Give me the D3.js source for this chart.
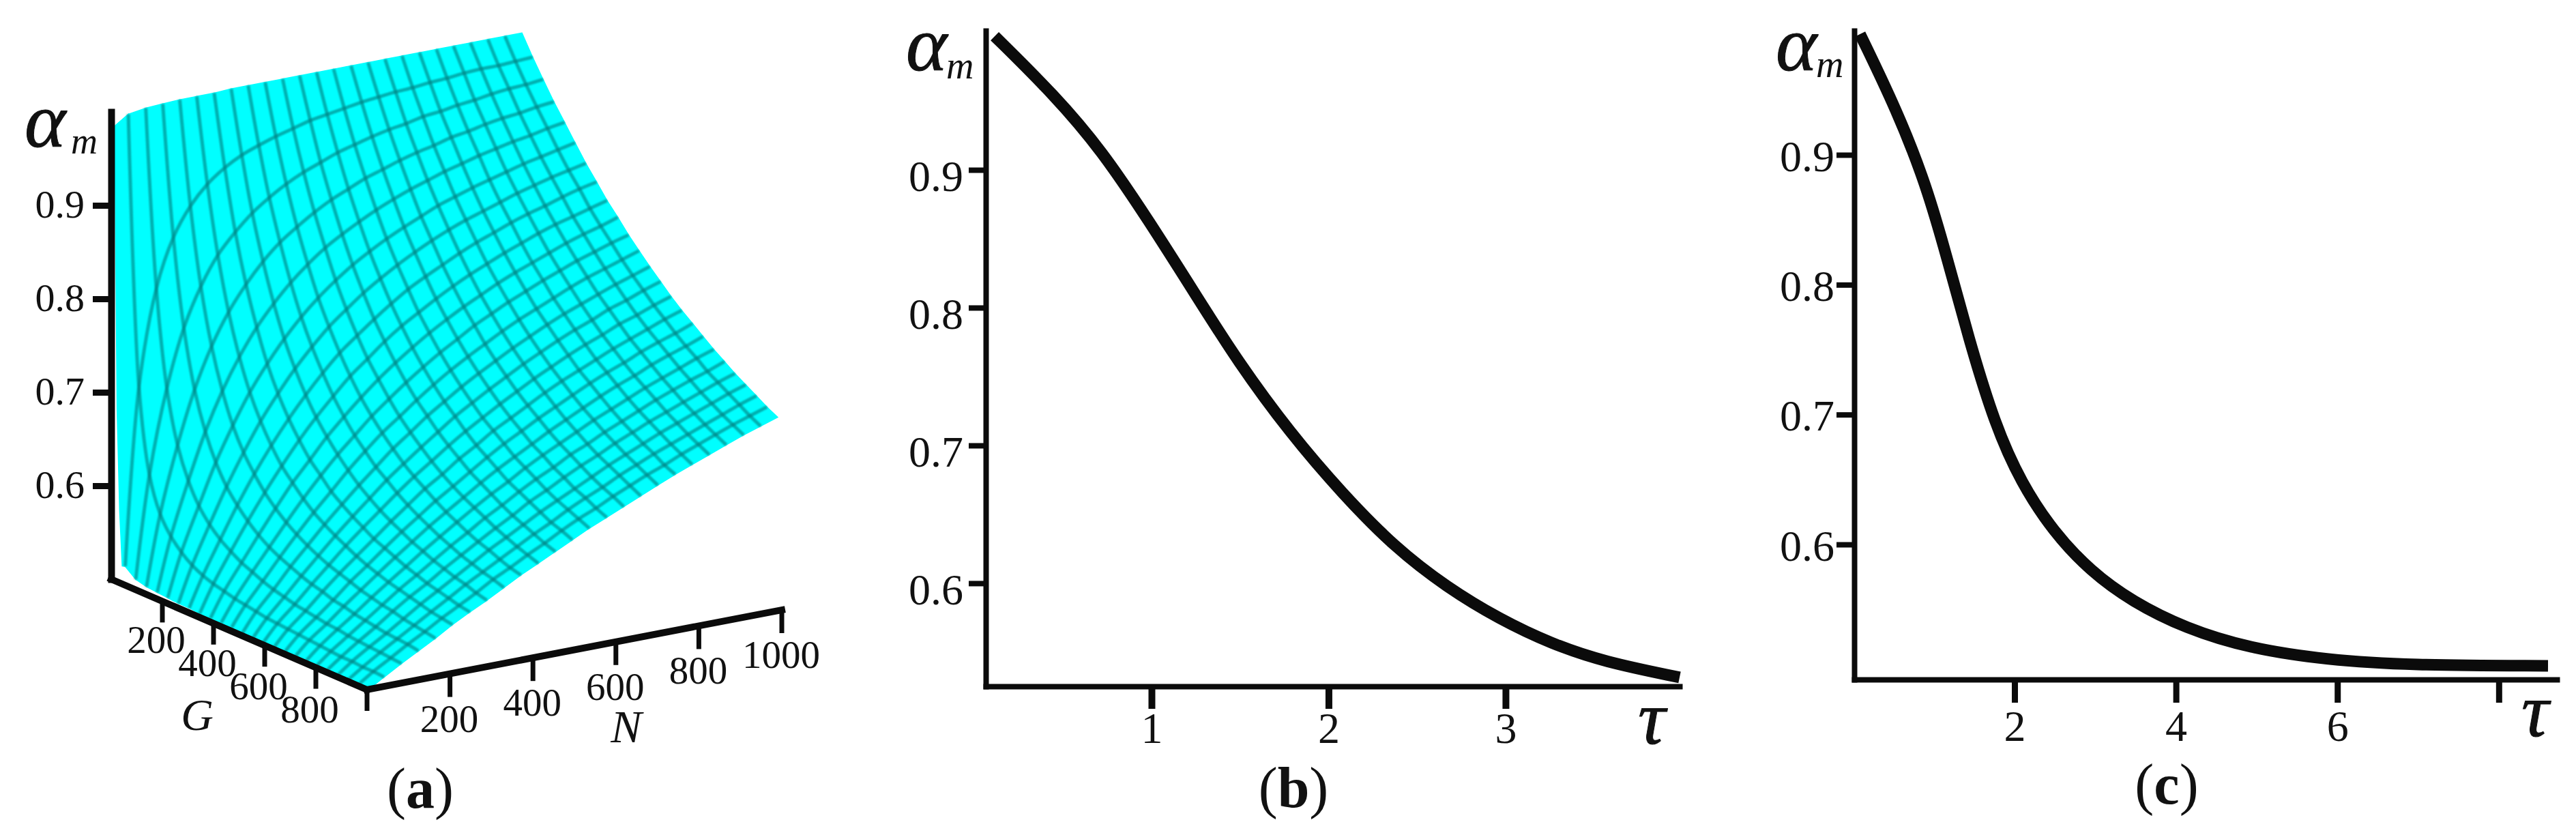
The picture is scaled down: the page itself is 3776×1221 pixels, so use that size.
<!DOCTYPE html>
<html>
<head>
<meta charset="utf-8">
<script src="https://cdnjs.cloudflare.com/ajax/libs/d3/7.8.5/d3.min.js"></script>
<style>
  body { margin: 0; background: #fff; }
  svg { display: block; }
  text { font-family: "Liberation Serif", serif; fill: #111; }
</style>
</head>
<body>
<svg id="chart" width="3776" height="1221">
  <defs>
    <filter id="soft"><feGaussianBlur stdDeviation="0.9"></feGaussianBlur></filter>
  </defs>
</svg>
<script>
// panel (b) curve
var tauB = [0.114, 0.453, 0.719, 0.985, 1.251, 1.487, 1.783, 2.078, 2.374, 2.669, 2.965, 3.26, 3.555, 3.983];
var alphaB = [0.997, 0.954, 0.914, 0.863, 0.809, 0.761, 0.709, 0.665, 0.626, 0.597, 0.574, 0.556, 0.543, 0.5317];

// panel (c) curve
var tauC = [0.085, 0.544, 0.905, 1.167, 1.43, 1.757, 2.085, 2.479, 2.938, 3.462, 4.118, 4.905, 5.889, 6.872, 8.61];
var alphaC = [0.993, 0.934, 0.877, 0.82, 0.759, 0.692, 0.647, 0.61, 0.5795, 0.5558, 0.5354, 0.52, 0.511, 0.507, 0.5065];

// tick labels
var alphaTicks = [0.9, 0.8, 0.7, 0.6];
var tauTicksB = [1, 2, 3];
var tauTicksC = [2, 4, 6, 8];
var tauLabelsC = [2, 4, 6];
var gTicks = [200, 400, 600, 800, 1000];
var nTicks = [200, 400, 600, 800, 1000];
var gTickLabels = [200, 400, 600, 800];
var nTickLabels = [200, 400, 600, 800, 1000];

// panel (a) surface: mesh nodes
var nGrid = [8, 41, 83, 124, 165, 206, 248, 289, 330, 371, 413, 454, 495, 536, 578, 619, 660, 701, 743, 784, 825, 866, 908, 949, 990];
var gGrid = [0.5, 42, 83, 125, 167, 208, 250, 292, 333, 375, 417, 458, 500, 542, 583, 625, 667, 708, 750, 792, 833, 875, 917, 958, 1000];

// alpha at each mesh node, one row per gGrid value, one column per nGrid value.
// Estimated: edges, inner nodes worked out by hand
// from a ratio curve fitted to those edge readings, not read one by one.
var alphaGrid = [
  [.984,.994,.997,.998,.999,.999,.999,1,1,1,1,1,1,1,1,1,1,1,1,1,1,1,1,1,1],
  [.518,.707,.809,.860,.890,.910,.924,.934,.941,.947,.952,.957,.960,.963,.966,.968,.970,.971,.973,.974,.976,.977,.977,.978,.979],
  [.509,.618,.707,.768,.809,.839,.860,.877,.890,.901,.910,.917,.924,.929,.934,.938,.941,.945,.947,.950,.952,.955,.957,.958,.960],
  [.506,.581,.651,.707,.750,.783,.809,.830,.847,.860,.872,.882,.890,.898,.904,.910,.915,.919,.924,.927,.931,.934,.936,.939,.941],
  [.505,.562,.618,.667,.707,.740,.768,.790,.809,.825,.839,.850,.860,.869,.877,.884,.890,.896,.901,.906,.910,.914,.917,.921,.924],
  [.504,.550,.596,.639,.675,.707,.734,.757,.777,.794,.809,.822,.833,.843,.852,.860,.868,.874,.880,.885,.890,.895,.899,.903,.907],
  [.503,.541,.581,.618,.651,.681,.707,.730,.750,.768,.783,.797,.809,.820,.830,.839,.847,.854,.860,.866,.872,.877,.882,.886,.890],
  [.503,.535,.570,.603,.633,.660,.685,.707,.727,.745,.760,.774,.787,.799,.809,.818,.827,.835,.842,.849,.855,.860,.866,.871,.875],
  [.502,.531,.562,.591,.618,.643,.667,.688,.707,.725,.740,.755,.768,.779,.790,.800,.809,.817,.825,.832,.839,.845,.850,.855,.860],
  [.502,.528,.555,.581,.606,.630,.651,.672,.690,.707,.723,.737,.750,.762,.773,.783,.792,.801,.809,.816,.823,.830,.836,.841,.847],
  [.502,.525,.550,.573,.596,.618,.639,.658,.675,.692,.707,.721,.734,.746,.757,.768,.777,.786,.794,.802,.809,.816,.822,.828,.833],
  [.502,.523,.545,.567,.588,.608,.627,.646,.663,.679,.693,.707,.720,.732,.743,.753,.763,.772,.780,.788,.796,.803,.809,.815,.821],
  [.501,.521,.541,.562,.581,.600,.618,.635,.651,.667,.681,.695,.707,.719,.730,.740,.750,.759,.768,.776,.783,.790,.797,.803,.809],
  [.501,.519,.538,.557,.575,.593,.610,.626,.642,.656,.670,.683,.696,.707,.718,.728,.738,.747,.756,.764,.771,.779,.785,.792,.798],
  [.501,.518,.535,.553,.570,.587,.603,.618,.633,.647,.660,.673,.685,.696,.707,.717,.727,.736,.745,.753,.760,.768,.774,.781,.787],
  [.501,.517,.533,.550,.566,.581,.596,.611,.625,.639,.651,.664,.675,.687,.697,.707,.717,.726,.734,.742,.750,.757,.764,.771,.777],
  [.501,.516,.531,.546,.562,.576,.591,.605,.618,.631,.643,.655,.667,.678,.688,.698,.707,.716,.725,.733,.740,.748,.755,.761,.768],
  [.501,.515,.529,.544,.558,.572,.586,.599,.612,.624,.636,.648,.659,.669,.679,.689,.698,.707,.716,.724,.731,.739,.746,.752,.759],
  [.501,.514,.528,.541,.555,.568,.581,.594,.606,.618,.630,.641,.651,.662,.672,.681,.690,.699,.707,.715,.723,.730,.737,.744,.750],
  [.501,.513,.526,.539,.552,.565,.577,.589,.601,.612,.624,.634,.645,.655,.664,.674,.682,.691,.699,.707,.715,.722,.729,.735,.742],
  [.501,.512,.525,.537,.550,.562,.573,.585,.596,.607,.618,.628,.639,.648,.658,.667,.675,.684,.692,.700,.707,.714,.721,.728,.734],
  [.501,.512,.524,.535,.547,.559,.570,.581,.592,.603,.613,.623,.633,.642,.651,.660,.669,.677,.685,.693,.700,.707,.714,.721,.727],
  [.501,.511,.523,.534,.545,.556,.567,.578,.588,.598,.608,.618,.627,.637,.646,.654,.663,.671,.679,.686,.693,.700,.707,.714,.720],
  [.501,.511,.522,.533,.543,.554,.564,.574,.585,.594,.604,.613,.623,.632,.640,.649,.657,.665,.672,.680,.687,.694,.701,.707,.713],
  [.501,.510,.521,.531,.541,.552,.562,.571,.581,.591,.600,.609,.618,.627,.635,.643,.651,.659,.667,.674,.681,.688,.695,.701,.707]
];

// left rim of the surface, next to the vertical axis
var rimG = [0.5, 10, 20, 30, 42];
var rimAlpha = [0.984, 0.682, 0.575, 0.517, 0.518];

var svg = d3.select("#chart");
var ink = "#0b0b0b";

function addText(x, y, str, size, italic, anchor) {
  return svg.append("text")
    .attr("x", x)
    .attr("y", y)
    .attr("font-size", size)
    .attr("font-style", italic ? "italic" : "normal")
    .attr("text-anchor", anchor || "start")
    .text(str);
}

// (a) etc, only the letter is bold
function addCaption(x, y, letter, size) {
  var t = addText(x, y, "(", size, false, "middle");
  t.append("tspan").attr("font-weight", "bold").text(letter);
  t.append("tspan").text(")");
}

function addAlphaLabel(ax, ay, aSize, mx, my, mSize) {
  addText(ax, ay, "\u03b1", aSize, true).attr("stroke", "#111").attr("stroke-width", 1);
  addText(mx, my, "m", mSize, true);
}

function styleAxis(g, pathWidth, tickWidth, fontSize) {
  g.select(".domain").attr("stroke", ink).attr("stroke-width", pathWidth).attr("stroke-linecap", "square");
  g.selectAll(".tick line").attr("stroke", ink).attr("stroke-width", tickWidth);
  g.selectAll(".tick text")
    .attr("font-size", fontSize)
    .attr("font-family", "Liberation Serif")
    .attr("fill", "#111");
}

// ---- panel (a) ----
var nToX = d3.scaleLinear().domain([0, 1000]).range([0, 608]);
var nToY = d3.scaleLinear().domain([0, 1000]).range([0, -117]);
var gToX = d3.scaleLinear().domain([0, 1000]).range([0, 375]);
var gToY = d3.scaleLinear().domain([0, 1000]).range([0, 162]);
var aY = d3.scaleLinear().domain([0.5, 1]).range([849, 164]);
var originX = 163;

function project(n, g, a) {
  return [originX + nToX(n) + gToX(g), aY(a) + nToY(n) + gToY(g)];
}

var meshG = svg.append("g");
var cells = [];
for (var r = 0; r < gGrid.length - 1; r++) {
  for (var c = 0; c < nGrid.length - 1; c++) {
    cells.push([
      project(nGrid[c], gGrid[r], alphaGrid[r][c]),
      project(nGrid[c + 1], gGrid[r], alphaGrid[r][c + 1]),
      project(nGrid[c + 1], gGrid[r + 1], alphaGrid[r + 1][c + 1]),
      project(nGrid[c], gGrid[r + 1], alphaGrid[r + 1][c])
    ]);
  }
}
// rim piece: the curved left edge closed back along the second mesh column
var rimPiece = rimG.map(function (g, i) { return project(nGrid[0], g, rimAlpha[i]); });
rimPiece.push(project(nGrid[1], gGrid[1], alphaGrid[1][1]));
rimPiece.push(project(nGrid[1], gGrid[0], alphaGrid[0][1]));
cells.push(rimPiece);

meshG.selectAll("polygon").data(cells).enter().append("polygon")
  .attr("points", function (d) { return d.join(" "); })
  .attr("fill", "#00ffff")
  .attr("stroke", "#00ffff")
  .attr("stroke-width", 1.5);

var meshLine = d3.line().curve(d3.curveCatmullRom.alpha(0.5));
var rowLines = gGrid.map(function (g, r) {
  return nGrid.map(function (n, c) { return project(n, g, alphaGrid[r][c]); });
});
var colLines = nGrid.map(function (n, c) {
  return gGrid.map(function (g, r) { return project(n, g, alphaGrid[r][c]); });
});
meshG.append("g")
  .attr("filter", "url(#soft)")
  .selectAll("path").data(rowLines.slice(1, -1).concat(colLines.slice(1, -1))).enter().append("path")
  .attr("d", meshLine)
  .attr("fill", "none")
  .attr("stroke", "#007f80")
  .attr("stroke-opacity", 0.62)
  .attr("stroke-width", 5);

var yAxisA = svg.append("g")
  .attr("transform", "translate(" + originX + ",0)")
  .call(d3.axisLeft(aY).tickValues(alphaTicks).tickSize(27).tickSizeOuter(0).tickPadding(12).tickFormat(d3.format(".1f")));
styleAxis(yAxisA, 10, 9, 58);
yAxisA.selectAll(".tick text").attr("dy", "0.31em");

function obliqueAxis(x1, y1, x2, y2) {
  svg.append("line")
    .attr("x1", x1).attr("y1", y1).attr("x2", x2).attr("y2", y2)
    .attr("stroke", ink).attr("stroke-width", 10).attr("stroke-linecap", "square");
}
var corner = project(0, 1000, 0.5);
var gStart = project(0, 0, 0.5);
var nEnd = project(1000, 1000, 0.5);
obliqueAxis(gStart[0], gStart[1], corner[0], corner[1]);
obliqueAxis(corner[0], corner[1], nEnd[0], nEnd[1]);

svg.selectAll("line.gtick").data(gTicks).enter().append("line")
  .attr("class", "gtick")
  .attr("x1", function (d) { return project(0, d, 0.5)[0]; })
  .attr("x2", function (d) { return project(0, d, 0.5)[0]; })
  .attr("y1", function (d) { return project(0, d, 0.5)[1]; })
  .attr("y2", function (d) { return project(0, d, 0.5)[1] + 31; })
  .attr("stroke", ink).attr("stroke-width", 7);
svg.selectAll("line.ntick").data(nTicks).enter().append("line")
  .attr("class", "ntick")
  .attr("x1", function (d) { return project(d, 1000, 0.5)[0]; })
  .attr("x2", function (d) { return project(d, 1000, 0.5)[0]; })
  .attr("y1", function (d) { return project(d, 1000, 0.5)[1]; })
  .attr("y2", function (d) { return project(d, 1000, 0.5)[1] + 34; })
  .attr("stroke", ink).attr("stroke-width", 7);

gTickLabels.forEach(function (d) {
  var p = project(0, d, 0.5);
  addText(p[0] - 9, p[1] + 74 + 0.008 * d, d, 57, false, "middle");
});
nTickLabels.forEach(function (d) {
  var p = project(d, 1000, 0.5);
  addText(p[0] - 1, p[1] + 85, d, 57, false, "middle");
});
addText(289, 1070, "G", 66, true, "middle");
addText(918, 1088, "N", 68, true, "middle");
addAlphaLabel(36, 215, 115, 104, 225, 54);
addCaption(616, 1184, "a", 84);

// ---- panel (b) ----
var xB = d3.scaleLinear().domain([0.0636, 3.983]).range([1445, 2462]);
var yB = d3.scaleLinear().domain([0.5252, 1.001]).range([1006, 45]);

var yAxisB = svg.append("g")
  .attr("transform", "translate(1445,0)")
  .call(d3.axisLeft(yB).tickValues(alphaTicks).tickSize(25).tickSizeOuter(0).tickPadding(8).tickFormat(d3.format(".1f")));
styleAxis(yAxisB, 8, 8, 64);
yAxisB.selectAll(".tick text").attr("dy", "0.47em");

var xAxisB = svg.append("g")
  .attr("transform", "translate(0,1006)")
  .call(d3.axisBottom(xB).tickValues(tauTicksB).tickSize(33).tickSizeOuter(0).tickPadding(5).tickFormat(d3.format("d")));
styleAxis(xAxisB, 8, 10, 64);

var curveLine = d3.line().curve(d3.curveBasis);
svg.append("path")
  .attr("d", curveLine(tauB.map(function (t, i) { return [xB(t), yB(alphaB[i])]; })))
  .attr("fill", "none")
  .attr("stroke", ink)
  .attr("stroke-width", 17);

addAlphaLabel(1328, 103, 115, 1387, 115, 56);
addText(2421, 1090, "\u03c4", 112, true, "middle").attr("stroke", "#111").attr("stroke-width", 1);
addCaption(1896, 1183, "b", 84);

// ---- panel (c) ----
var xC = d3.scaleLinear().domain([0.0135, 8.72]).range([2718, 3748]);
var yC = d3.scaleLinear().domain([0.496, 0.9956]).range([996, 45]);

var yAxisC = svg.append("g")
  .attr("transform", "translate(2718,0)")
  .call(d3.axisLeft(yC).tickValues(alphaTicks).tickSize(26).tickSizeOuter(0).tickPadding(3).tickFormat(d3.format(".1f")));
styleAxis(yAxisC, 8, 8, 64);
yAxisC.selectAll(".tick text").attr("dy", "0.36em");

var xAxisC = svg.append("g")
  .attr("transform", "translate(0,996)")
  .call(d3.axisBottom(xC).tickValues(tauTicksC).tickSize(34).tickSizeOuter(0).tickPadding(11)
    .tickFormat(function (d) { return tauLabelsC.indexOf(d) >= 0 ? d : ""; }));
styleAxis(xAxisC, 8, 9, 64);

svg.append("path")
  .attr("d", curveLine(tauC.map(function (t, i) { return [xC(t), yC(alphaC[i])]; })))
  .attr("fill", "none")
  .attr("stroke", ink)
  .attr("stroke-width", 17);

addAlphaLabel(2603, 103, 115, 2662, 113, 56);
addText(3716, 1079, "\u03c4", 112, true, "middle").attr("stroke", "#111").attr("stroke-width", 1);
addCaption(3176, 1178, "c", 84);
</script>
</body>
</html>
